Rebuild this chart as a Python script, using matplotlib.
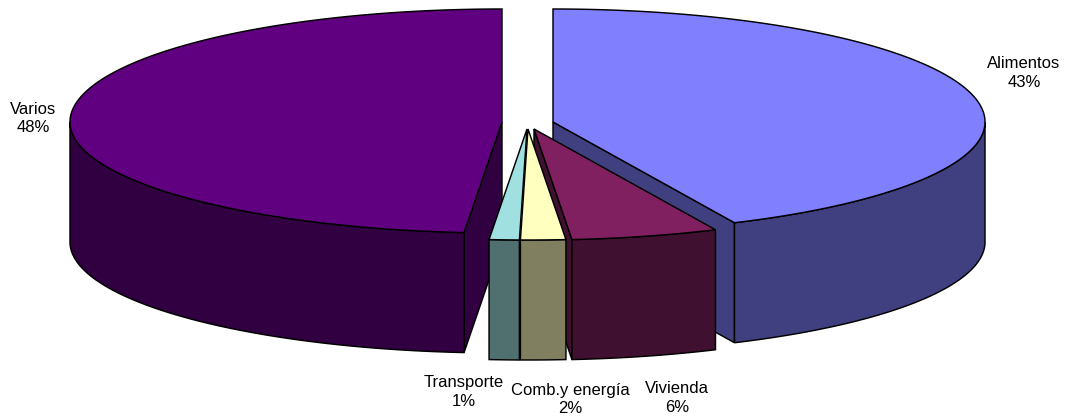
import numpy as np
import matplotlib
matplotlib.use('Agg')
import matplotlib.pyplot as plt

plt.rcParams['font.family'] = ['Liberation Sans', 'DejaVu Sans']

# Data
categories = ['Alimentos', 'Vivienda', 'Comb.y energía', 'Transporte', 'Varios']
values = [43.1, 5.5, 1.68, 1.12, 48.6]
pct_labels = ['43%', '6%', '2%', '1%', '48%']

top_colors = ['#8080FF', '#802060', '#FFFFC0', '#A0E0E0', '#600080']
wall_colors = ['#404080', '#401030', '#808060', '#507070', '#300040']

# apex of each exploded slice on the top face, in pixels
apex = [(553, 122), (534, 129), (528, 129), (527, 129), (502, 122)]
RX, RY_BACK, RY_FRONT, DEPTH = 432, 113, 111, 120
LW = 1.05

label_pos = [(1024, 73), (677, 398), (570, 399.5), (463.5, 392), (33, 118.5)]

fig = plt.figure(figsize=(10.69, 4.19), dpi=100)
ax = fig.add_axes([0, 0, 1, 1])
ax.set_xlim(0, 1069)
ax.set_ylim(419, 0)
ax.axis('off')


def rim(i, a0, a1):
    # points on the edge, angles in degrees clockwise from the top
    t = np.radians(np.linspace(a0, a1, max(int(abs(a1 - a0) * 2), 2)))
    ry = np.where(np.cos(t) > 0, RY_BACK, RY_FRONT)
    return apex[i][0] + RX * np.sin(t), apex[i][1] - ry * np.cos(t)


def fill(xs, ys, color, z):
    ax.fill(xs, ys, facecolor=color, edgecolor='black', linewidth=LW, zorder=z, joinstyle='miter')


def radial_wall(i, a, z):
    x, y = rim(i, a, a)
    cx, cy = apex[i]
    fill([cx, x[0], x[0], cx], [cy, y[0], y[0] + DEPTH, cy + DEPTH], wall_colors[i], z)


def outer_wall(i, a0, a1, z):
    # only the part of the rim facing the viewer is visible
    a0, a1 = max(a0, 90), min(a1, 270)
    x, y = rim(i, a0, a1)
    fill(np.r_[x, x[::-1]], np.r_[y, y[::-1] + DEPTH], wall_colors[i], z)


def top(i, a0, a1, z):
    x, y = rim(i, a0, a1)
    fill(np.r_[apex[i][0], x], np.r_[apex[i][1], y], top_colors[i], z)


edges = np.r_[0, np.cumsum(values)] * 3.6
draw_order = [0, 4, 1, 2, 3]
for z, i in enumerate(draw_order):
    a0, a1 = edges[i], edges[i + 1]
    base = z * 10
    if i in (0, 1):
        radial_wall(i, a1, base + 1)
    if i == 4:
        radial_wall(i, a0, base + 1)
    outer_wall(i, a0, a1, base + 2)
    top(i, a0, a1, base + 3)

for name, pct, (x, y) in zip(categories, pct_labels, label_pos):
    ax.text(x, y, name + '\n' + pct, ha='center', va='center', fontsize=12,
            color='black', linespacing=1.27, zorder=100)

fig.savefig('out.png', dpi=100, facecolor='white')
